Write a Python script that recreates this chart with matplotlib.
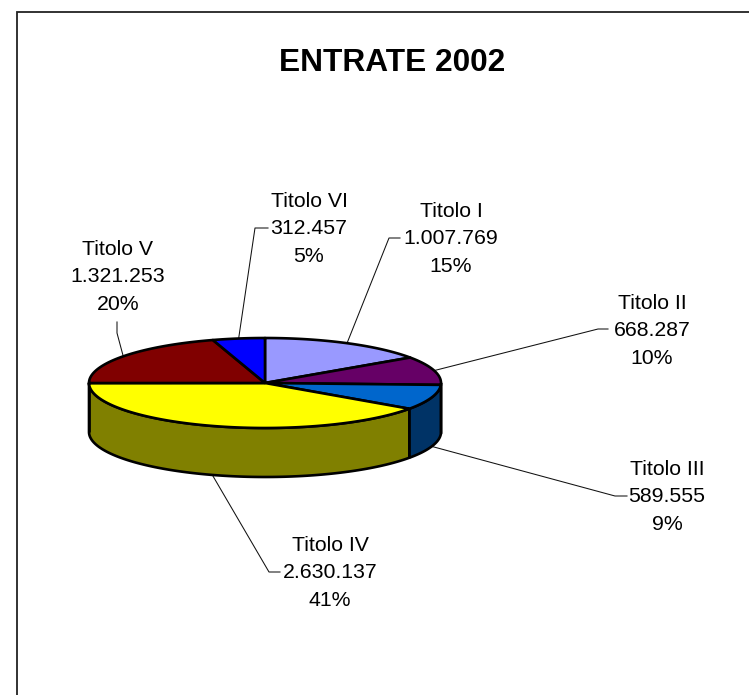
"""ENTRATE 2002: pseudo-3D pie drawn on a full-figure axes in pixel coordinates."""
import numpy as np
import matplotlib

matplotlib.use("Agg")
import matplotlib.pyplot as plt

plt.rcParams["font.family"] = ["Liberation Sans", "DejaVu Sans"]

categories = ["Titolo I", "Titolo II", "Titolo III", "Titolo IV", "Titolo V", "Titolo VI"]
values = [1007769, 668287, 589555, 2630137, 1321253, 312457]
value_labels = ["1.007.769", "668.287", "589.555", "2.630.137", "1.321.253", "312.457"]
pct_labels = ["15%", "10%", "9%", "41%", "20%", "5%"]

TOP_COLORS = ["#9999FF", "#660066", "#0066CC", "#FFFF00", "#800000", "#0000FF"]
SIDE_COLORS = ["#4C4C80", "#330033", "#003366", "#808000", "#400000", "#000080"]

W, H = 749, 695
CX, CY, RX, RY, DEPTH = 265, 383, 176, 45, 49
EDGE_LW = 1.9

# label centre (x, y of the middle line) and leader elbow, in pixels
LABEL_POS = [(451, 239), (652, 331), (667, 497), (330, 573), (118, 277), (309, 229)]
ELBOWS = [
    [(389, 238), (400, 238)],
    [(598, 329), (608, 329)],
    [(615, 496), (627, 496)],
    [(269, 572), (280, 572)],
    [(117, 333), (117, 322)],
    [(255, 228), (268, 228)],
]


def rim(t_deg, dy=0.0):
    """Pixel points on the ellipse rim for angles in degrees, shifted down by dy."""
    t = np.radians(t_deg)
    return CX + RX * np.cos(t), CY - RY * np.sin(t) + dy


fig = plt.figure(figsize=(W / 100, H / 100), dpi=100)
ax = fig.add_axes([0, 0, 1, 1])
ax.set_xlim(0, W)
ax.set_ylim(H, 0)
ax.axis("off")

# frame: only top and left edges are visible in the source
ax.plot([16.5, 16.5, W], [H, 12, 12], color="#222222", lw=1.3, solid_joinstyle="miter")

sweep = np.array(values) / sum(values) * 360.0
ends = 90.0 - np.cumsum(sweep)
starts = ends + sweep

# side walls: only the part of each slice on the front half of the ellipse
for start, end, side in zip(starts, ends, SIDE_COLORS):
    a, b = min(start, 0.0), max(end, -180.0)
    if a <= b:
        continue
    t = np.linspace(a, b, 120)
    x_top, y_top = rim(t)
    x_bot, y_bot = rim(t, DEPTH)
    ax.fill(np.r_[x_top, x_bot[::-1]], np.r_[y_top, y_bot[::-1]],
            facecolor=side, edgecolor="black", lw=EDGE_LW, joinstyle="round", zorder=2)

# top face
for start, end, top in zip(starts, ends, TOP_COLORS):
    t = np.linspace(start, end, 120)
    x, y = rim(t)
    ax.fill(np.r_[CX, x], np.r_[CY, y], facecolor=top, edgecolor="black",
            lw=EDGE_LW, joinstyle="round", zorder=3)

# labels and leader lines
mids = (starts + ends) / 2
for i, name in enumerate(categories):
    mx, my = rim(mids[i], DEPTH if np.sin(np.radians(mids[i])) < -0.2 else 0.0)
    pts = [(mx, my)] + ELBOWS[i]
    ax.plot(*zip(*pts), color="#111111", lw=0.75, zorder=1)
    lx, ly = LABEL_POS[i]
    ax.text(lx, ly, f"{name}\n{value_labels[i]}\n{pct_labels[i]}", ha="center", va="center",
            fontsize=15.3, linespacing=1.55, color="black", zorder=4)

ax.text(392, 63, "ENTRATE 2002", ha="center", va="center", fontsize=22.8,
        fontweight="bold", color="black")

fig.savefig("out.png", dpi=100)
plt.close(fig)
